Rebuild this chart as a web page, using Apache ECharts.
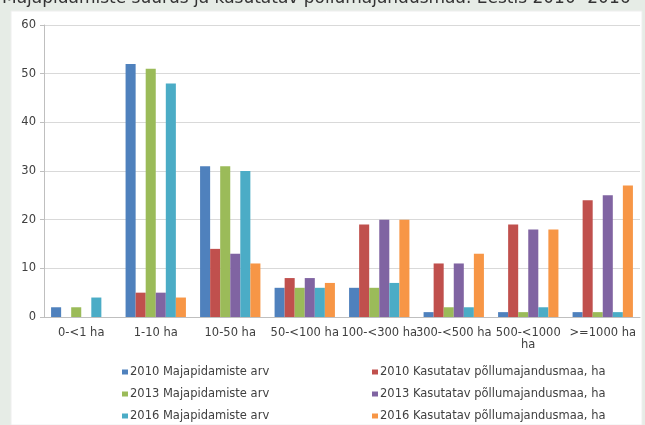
<!DOCTYPE html>
<html>
<head>
<meta charset="utf-8">
<script src="https://cdn.jsdelivr.net/npm/echarts@6/dist/echarts.min.js"></script>
<style>
    html, body { margin: 0; padding: 0; background: #e6ece6; }
    #main { width: 645px; height: 425px; }
</style>
</head>
<body>
<div id="main"></div>
<script>
// suurusklassid
var categories = ['0-<1 ha', '1-10 ha', '10-50 ha', '50-<100 ha', '100-<300 ha', '300-<500 ha', '500-<1000 ha', '>=1000 ha'];
var yTicks = [0, 10, 20, 30, 40, 50, 60];

var names = [
    '2010 Majapidamiste arv',
    '2010 Kasutatav põllumajandusmaa, ha',
    '2013 Majapidamiste arv',
    '2013 Kasutatav põllumajandusmaa, ha',
    '2016 Majapidamiste arv',
    '2016 Kasutatav põllumajandusmaa, ha'
];
var hh2010 = [2, 52, 31, 6, 6, 1, 1, 1];
var land2010 = [0, 5, 14, 8, 19, 11, 19, 24];
var hh2013 = [2, 51, 31, 6, 6, 2, 1, 1];
var land2013 = [0, 5, 13, 8, 20, 11, 18, 25];
var hh2016 = [4, 48, 30, 6, 7, 2, 2, 1];
var land2016 = [0, 4, 11, 7, 20, 13, 18, 27];

var colors = ['#4f81bd', '#c0504d', '#9bbb59', '#8064a2', '#4bacc6', '#f79646'];
var values = [hh2010, land2010, hh2013, land2013, hh2016, land2016];

var font = 'DejaVu Sans';
var series = [];
for (var i = 0; i < names.length; i++) {
    series.push({
        name: names[i],
        type: 'bar',
        barGap: '0%',
        barCategoryGap: '19%',
        itemStyle: { color: colors[i] },
        data: values[i]
    });
}

function legendBox(left, list){
    return {
        orient: 'vertical',
        left: left,
        top: 365,
        height: 60,
        padding: 0,
        data: list,
        icon: 'rect',
        itemWidth: 6,
        itemHeight: 5,
        itemGap: 8,
        selectedMode: false,
        textStyle: { fontFamily: font, fontSize: 11.5, color: '#404040', lineHeight: 14, padding: [0, 0, 0, -3] }
    };
}

var option = {
    animation: false,
    color: colors,
    title: {
        text: 'Majapidamiste suurus ja kasutatav põllumajandusmaa. Eestis 2010- 2016',
        left: 2,
        top: -10,
        padding: 0,
        textStyle: { fontFamily: font, fontSize: 17, fontWeight: 'normal', color: '#333333' }
    },
    graphic: [
        {
            type: 'rect',
            z: -10,
            shape: { x: 11, y: 11, width: 631, height: 414 },
            style: { fill: '#ffffff', stroke: '#eeeeee' }
        }
    ],
    legend: [
        legendBox(122, [names[0], names[2], names[4]]),
        legendBox(372, [names[1], names[3], names[5]])
    ],
    grid: {
        left: 44,
        right: 5,
        top: 25,
        bottom: 108
    },
    xAxis: {
        type: 'category',
        data: categories,
        axisLine: { lineStyle: { color: '#bfbfbf' } },
        axisTick: { length: 4, lineStyle: { color: '#bfbfbf' } },
        axisLabel: {
            fontFamily: font,
            fontSize: 11.5,
            color: '#404040',
            margin: 10,
            interval: 0,
            formatter: function(v){
                // pikk silt kahele reale
                return v.length > 11 ? v.replace(/ (?=\S+$)/, '\n') : v;
            }
        }
    },
    yAxis: {
        type: 'value',
        min: yTicks[0],
        max: yTicks[yTicks.length - 1],
        interval: yTicks[1] - yTicks[0],
        axisLine: { show: true, lineStyle: { color: '#bfbfbf' } },
        axisTick: { show: true, length: 4, lineStyle: { color: '#bfbfbf' } },
        axisLabel: { fontFamily: font, fontSize: 11.5, color: '#404040', margin: 8 },
        splitLine: { lineStyle: { color: '#d9d9d9' } }
    },
    series: series
};

var chart = echarts.init(document.getElementById('main'));
chart.setOption(option);
</script>
</body>
</html>
